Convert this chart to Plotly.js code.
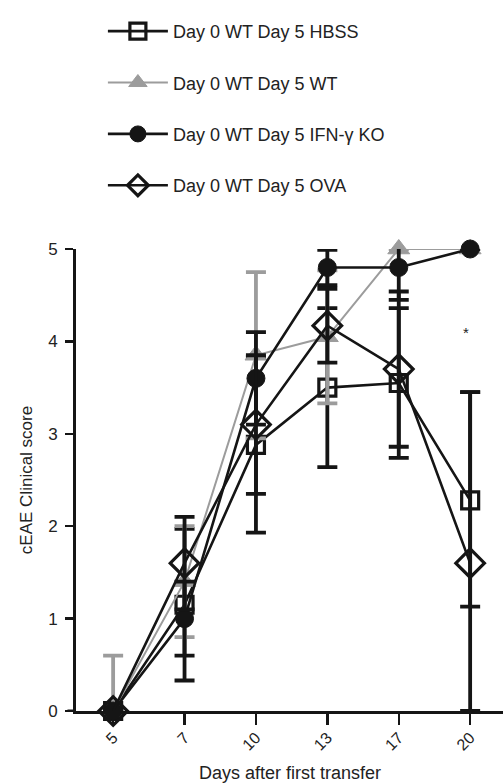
<!DOCTYPE html>
<html>
<head>
<meta charset="utf-8">
<script src="https://cdn.plot.ly/plotly-3.0.1.min.js"></script>
<style>html,body{margin:0;padding:0;background:#fff;}#chart{width:503px;height:784px;}</style>
</head>
<body>
<div id="chart"></div>
<script>
// Data
const days = ['5', '7', '10', '13', '17', '20'];

const hbssName = 'Day 0 WT Day 5 HBSS';
const hbssMean = [0, 1.15, 2.88, 3.5, 3.55, 2.28];
const hbssErrUp = [0, 0.82, 0.95, 0.86, 0.81, 1.17];
const hbssErrDown = [0, 0.82, 0.95, 0.86, 0.81, 1.15];

const wtName = 'Day 0 WT Day 5 WT';
const wtMean = [0, 1.4, 3.85, 4.05, 5.0, 5.0];
const wtErrUp = [0.6, 0.6, 0.9, 0.72, 0, 0];
const wtErrDown = [0, 0.6, 0.9, 0.72, 0, 0];

const ifnName = 'Day 0 WT Day 5 IFN-γ KO';
const ifnMean = [0, 1.0, 3.6, 4.8, 4.8, 5.0];
const ifnErrUp = [0, 0.4, 0.5, 0.19, 0.35, 0];
const ifnErrDown = [0, 0.4, 0.5, 0.19, 0.35, 0];

const ovaName = 'Day 0 WT Day 5 OVA';
const ovaMean = [0, 1.6, 3.1, 4.17, 3.7, 1.6];
const ovaErrUp = [0, 0.5, 0.75, 0.4, 0.84, 1.85];
const ovaErrDown = [0, 0.5, 0.75, 0.4, 0.84, 1.6];

const starLabel = '*';
const starDay = '20';
const starY = 4.1;

const xTitle = 'Days after first transfer';
const yTitle = 'cEAE Clinical score';

const BLACK = '#151515';
const GRAY = '#9c9c9c';

function trace(name, y, up, down, color, symbol, size, lw, mlw, group) {
  return {
    type: 'scatter', mode: 'lines+markers', name: name, x: days, y: y,
    legendgroup: group,
    cliponaxis: false,
    line: {color: color, width: lw},
    marker: {symbol: symbol, size: size, color: color, line: {color: color, width: mlw}},
    error_y: {type: 'data', symmetric: false, array: up, arrayminus: down,
              color: color, thickness: 3.8, width: 10}
  };
}

const data = [
  trace(hbssName, hbssMean, hbssErrUp, hbssErrDown, BLACK, 'square-open', 17, 2.6, 3.2, 'a'),
  trace(wtName, wtMean, wtErrUp, wtErrDown, GRAY, 'triangle-up', 19, 2, 1, 'b'),
  trace(ifnName, ifnMean, ifnErrUp, ifnErrDown, BLACK, 'circle', 18, 2.6, 1, 'c'),
  trace(ovaName, ovaMean, ovaErrUp, ovaErrDown, BLACK, 'diamond-open', 22, 2.6, 3.2, 'd')
];

const layout = {
  width: 503, height: 784,
  margin: {l: 76, r: 0, t: 249, b: 73, pad: 0, autoexpand: false},
  paper_bgcolor: '#fff', plot_bgcolor: '#fff',
  font: {family: 'Arial, "Liberation Sans", sans-serif', color: '#222', size: 16},
  showlegend: true,
  legend: {
    xref: 'paper', yref: 'paper', x: 0.063, y: 1.511, xanchor: 'left', yanchor: 'top',
    font: {size: 18, color: '#222'}, itemwidth: 60, tracegroupgap: 25,
    traceorder: 'grouped', bgcolor: 'rgba(0,0,0,0)'
  },
  xaxis: {
    type: 'category', range: [-0.52, 5.46], automargin: false,
    showline: true, linecolor: BLACK, linewidth: 3,
    ticks: 'outside', ticklen: 11, tickwidth: 2.5, tickcolor: BLACK,
    tickangle: -45, tickfont: {size: 16}, ticklabelstandoff: -3,
    showgrid: false, zeroline: false
  },
  yaxis: {
    range: [0, 5], automargin: false,
    showline: true, linecolor: BLACK, linewidth: 3,
    ticks: 'outside', ticklen: 8, tickwidth: 2.5, tickcolor: BLACK,
    tickvals: [0, 1, 2, 3, 4, 5], tickfont: {size: 17}, ticklabelstandoff: 4,
    showgrid: false, zeroline: false,
    title: {text: yTitle, font: {size: 17}, standoff: 12}
  },
  shapes: [{
    type: 'line', xref: 'paper', yref: 'y', x0: -0.02, x1: 0, y0: 0, y1: 0,
    line: {color: BLACK, width: 3}
  }],
  annotations: [{
    x: days.indexOf(starDay), y: starY, xref: 'x', yref: 'y', xshift: -4, text: starLabel,
    showarrow: false, font: {size: 15, color: '#222'}
  }, {
    x: 0.5, y: -0.134, xref: 'paper', yref: 'paper', xanchor: 'center', yanchor: 'middle',
    text: xTitle, showarrow: false, font: {size: 18, color: '#222'}
  }]
};

Plotly.newPlot('chart', data, layout, {displayModeBar: false, staticPlot: true});
</script>
</body>
</html>
